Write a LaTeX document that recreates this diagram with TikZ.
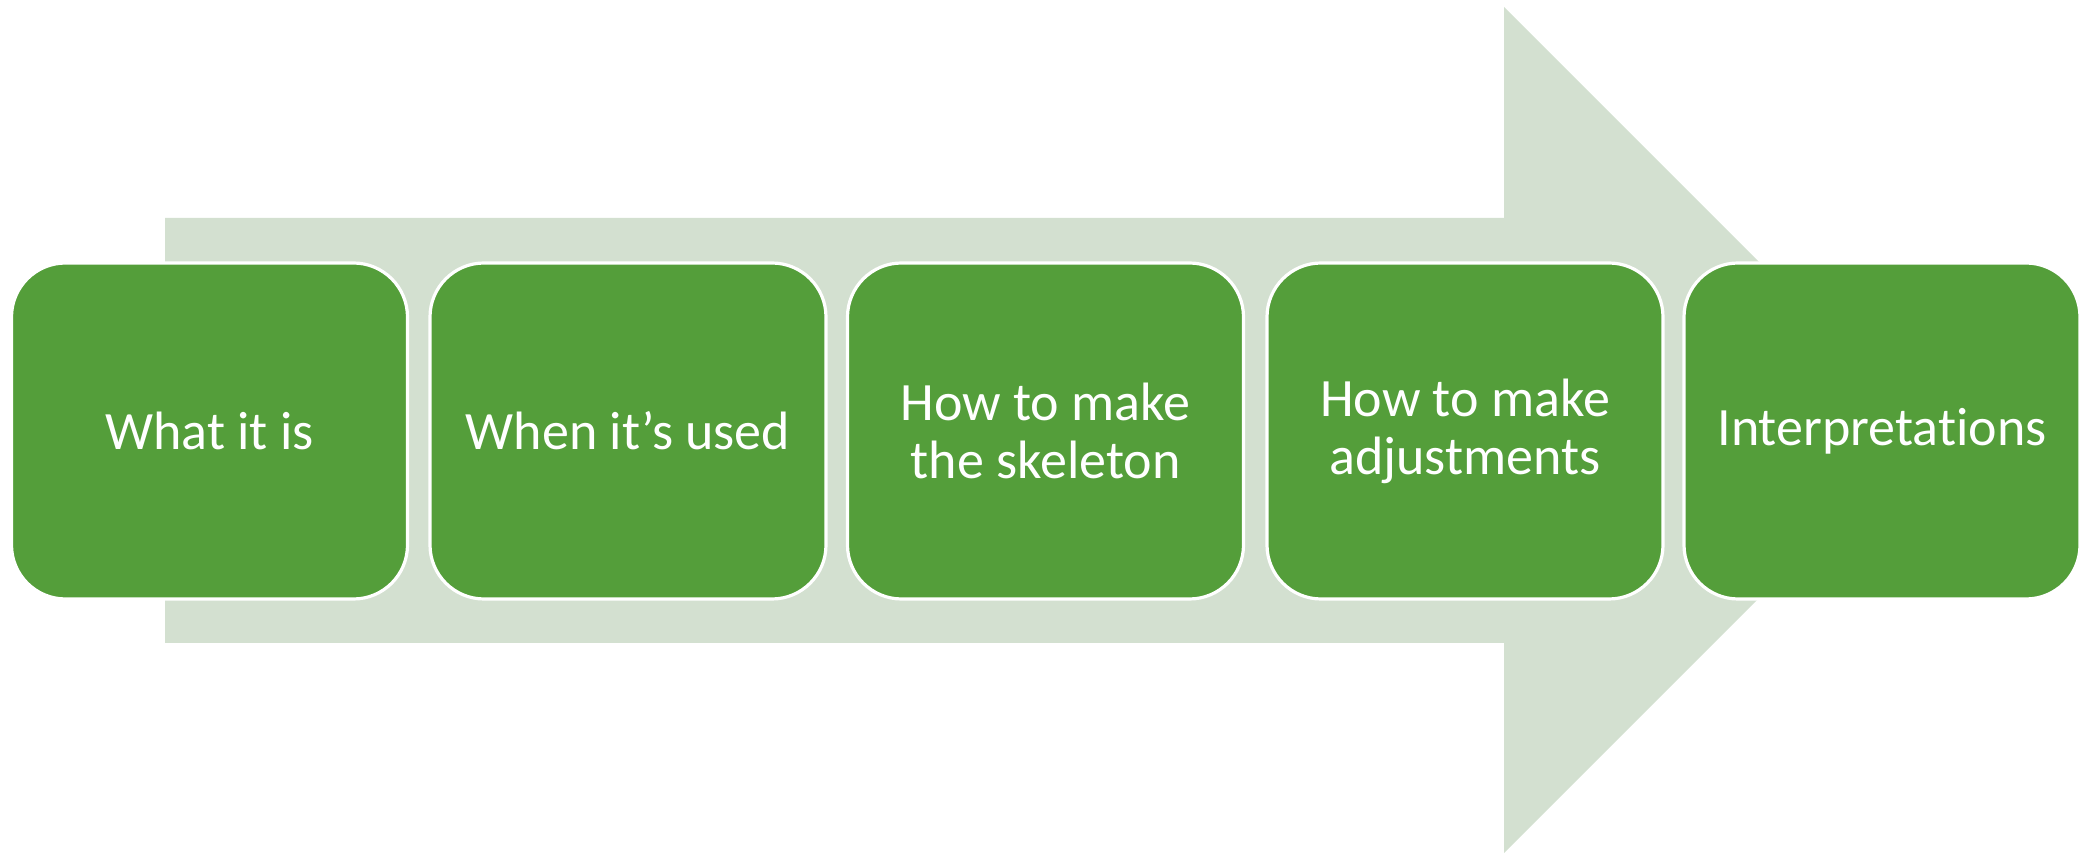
\documentclass[tikz,border=0pt]{standalone}
\usepackage{fontspec}
\setmainfont{Carlito}[Ligatures={NoCommon}]
\usepackage{tikz}

\definecolor{stepgreen}{RGB}{84,158,58}
\definecolor{arrowgrey}{RGB}{211,224,208}

\tikzset{
	stepbox/.style={shape=rectangle, rounded corners=27pt, fill=stepgreen, draw=white,
		line width=1.6pt, minimum width=198pt, minimum height=168pt, align=center,
		text=white, font=\fontsize{27}{29}\selectfont}
}

\begin{document}
\begin{tikzpicture}[x=0.5pt,y=-0.5pt]
	\useasboundingbox (0,0) rectangle (2084,854);

	\fill[arrowgrey] (165,218) -- (1504,218) -- (1504,7) -- (1927,430)
		-- (1504,853) -- (1504,643) -- (165,643) -- cycle;

	\node[stepbox] (what)   at (209.5, 431) {What it is};
	\node[stepbox] (when)   at (628, 431)   {When it’s used};
	\node[stepbox] (skel)   at (1045.5, 431) {How to make\\the skeleton};
	\node[stepbox] (adjust) at (1465, 431)  {How to make\\adjustments};
	\node[stepbox] (interp) at (1882, 431)  {Interpretations};

\end{tikzpicture}
\end{document}
